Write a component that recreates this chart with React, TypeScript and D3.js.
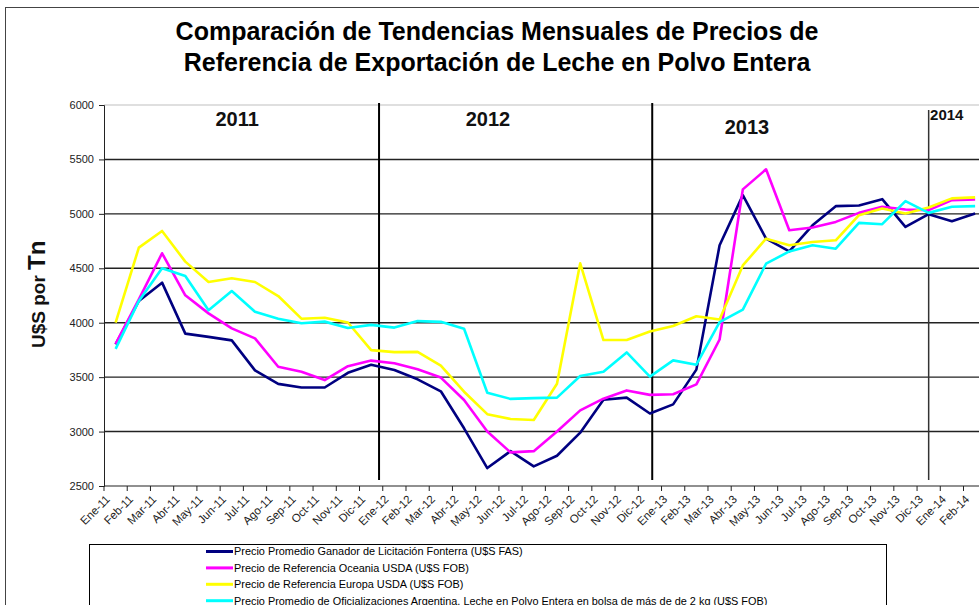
import React, { useEffect, useRef } from "react";
import * as d3 from "d3";

const categories = [
	"Ene-11", "Feb-11", "Mar-11", "Abr-11", "May-11", "Jun-11", "Jul-11", "Ago-11", "Sep-11", "Oct-11", "Nov-11", "Dic-11",
	"Ene-12", "Feb-12", "Mar-12", "Abr-12", "May-12", "Jun-12", "Jul-12", "Ago-12", "Sep-12", "Oct-12", "Nov-12", "Dic-12",
	"Ene-13", "Feb-13", "Mar-13", "Abr-13", "May-13", "Jun-13", "Jul-13", "Ago-13", "Sep-13", "Oct-13", "Nov-13", "Dic-13",
	"Ene-14", "Feb-14",
];

const fonterra = [
	3800, 4200, 4368, 3900, 3870, 3838, 3562, 3438, 3405, 3405, 3540, 3614,
	3565, 3480, 3370, 3030, 2665, 2820, 2680, 2778, 2990, 3292, 3312, 3166,
	3250, 3569, 4711, 5172, 4772, 4655, 4895, 5071, 5077, 5135, 4880, 4997,
	4932, 5003,
];
const oceania = [
	3805, 4215, 4638, 4252, 4086, 3948, 3856, 3595, 3549, 3473, 3601, 3652,
	3628, 3573, 3496, 3290, 3000, 2809, 2820, 3000, 3195, 3302, 3378, 3337,
	3343, 3434, 3846, 5225, 5409, 4849, 4874, 4926, 5009, 5065, 5040, 5034,
	5126, 5132,
];
const europa = [
	4000, 4690, 4843, 4561, 4374, 4408, 4374, 4245, 4037, 4046, 4002, 3748,
	3730, 3732, 3606, 3366, 3160, 3116, 3107, 3440, 4546, 3841, 3841, 3920,
	3970, 4060, 4030, 4526, 4772, 4711, 4742, 4757, 4988, 5049, 5003, 5058,
	5142, 5151,
];
const argentina = [
	3760, 4199, 4500, 4429, 4115, 4291, 4100, 4037, 3995, 4010, 3952, 3980,
	3955, 4015, 4008, 3945, 3357, 3300, 3307, 3312, 3510, 3550, 3727, 3505,
	3654, 3614, 4006, 4120, 4542, 4655, 4711, 4680, 4917, 4905, 5117, 5009,
	5065, 5071,
];

const seriesNames = [
	"Precio Promedio Ganador de Licitación Fonterra (U$S FAS)",
	"Precio de Referencia Oceania USDA (U$S FOB)",
	"Precio de Referencia Europa USDA (U$S FOB)",
	"Precio Promedio de Oficializaciones Argentina, Leche en Polvo Entera en bolsa de más de de 2 kg (U$S FOB)",
];
const seriesColors = ["#000080", "#ff00ff", "#ffff00", "#00ffff"];
const seriesValues = [fonterra, oceania, europa, argentina];

const yTicks = [2500, 3000, 3500, 4000, 4500, 5000, 5500, 6000];

// year labels and the hand-drawn separators, in category units
const yearLabels = ["2011", "2012", "2013", "2014"];
const yearLabelAt = [5.73, 16.53, 27.68, 35.56];
const yearBreakAt = [11.84, 23.6, 35.5];

const App = () => {
	const ref = useRef(null);

	useEffect(() => {
		const width = 979;
		const height = 605;
		const margin = { top: 105, left: 104, bottom: 486 };
		const step = 23.23;

		const svg = d3.select(ref.current);
		svg.selectAll("*").remove();

		const x = d3
			.scaleBand()
			.domain(categories)
			.range([margin.left, margin.left + step * categories.length])
			.padding(0);
		const xi = d3
			.scaleLinear()
			.domain([0, categories.length])
			.range([margin.left, margin.left + step * categories.length]);
		const y = d3.scaleLinear().domain([2500, 6000]).range([margin.bottom, margin.top]);

		const font = "Arial, 'Liberation Sans', sans-serif";

		svg.append("rect").attr("width", width).attr("height", height).attr("fill", "#fff");

		// chart border
		svg
			.append("rect")
			.attr("x", 5.5)
			.attr("y", 7.5)
			.attr("width", width + 20)
			.attr("height", height + 20)
			.attr("fill", "none")
			.attr("stroke", "#444")
			.attr("stroke-width", 1);

		// title
		const title = svg
			.append("text")
			.attr("text-anchor", "middle")
			.attr("font-family", font)
			.attr("font-weight", "bold")
			.attr("font-size", 25)
			.attr("fill", "#000");
		title.append("tspan").attr("x", 497).attr("y", 40).text("Comparación de Tendencias Mensuales de Precios de");
		title.append("tspan").attr("x", 497).attr("y", 71).text("Referencia de Exportación de Leche en Polvo Entera");

		// gridlines
		svg
			.append("g")
			.selectAll("line")
			.data(yTicks.filter((t) => t > 2500))
			.join("line")
			.attr("x1", margin.left)
			.attr("x2", width + 10)
			.attr("y1", (d) => y(d))
			.attr("y2", (d) => y(d))
			.attr("stroke", (d) => (d === 6000 ? "#d4d4d4" : "#222"))
			.attr("stroke-width", 1.4);

		// y axis
		const yAxis = svg
			.append("g")
			.attr("transform", `translate(${margin.left},0)`)
			.call(d3.axisLeft(y).tickValues(yTicks).tickSize(5).tickPadding(5).tickFormat(d3.format("d")));
		yAxis.select(".domain").attr("stroke", "#222");
		yAxis.selectAll("line").attr("stroke", "#222");
		yAxis.selectAll("text").attr("font-family", font).attr("font-size", 11).attr("fill", "#222");

		// x axis
		svg
			.append("line")
			.attr("x1", margin.left)
			.attr("x2", width + 10)
			.attr("y1", margin.bottom)
			.attr("y2", margin.bottom)
			.attr("stroke", "#222")
			.attr("stroke-width", 1.2);
		svg
			.append("g")
			.selectAll("line")
			.data(categories)
			.join("line")
			.attr("x1", (d) => x(d))
			.attr("x2", (d) => x(d))
			.attr("y1", margin.bottom)
			.attr("y2", margin.bottom + 5)
			.attr("stroke", "#222");
		svg
			.append("g")
			.selectAll("text")
			.data(categories)
			.join("text")
			.attr("transform", (d) => `translate(${x(d) + x.bandwidth() / 2 - 5},${margin.bottom + 14}) rotate(-45)`)
			.attr("text-anchor", "end")
			.attr("font-family", font)
			.attr("font-size", 11.5)
			.attr("fill", "#222")
			.text((d) => d);

		// year separators
		svg
			.append("g")
			.selectAll("line")
			.data(yearBreakAt)
			.join("line")
			.attr("x1", (d) => xi(d))
			.attr("x2", (d) => xi(d))
			.attr("y1", (d, i) => (i === 2 ? 110 : 103))
			.attr("y2", 480)
			.attr("stroke", (d, i) => (i === 2 ? "#333" : "#000"))
			.attr("stroke-width", (d, i) => (i === 2 ? 1.5 : 2));

		// year labels
		svg
			.append("g")
			.selectAll("text")
			.data(yearLabels)
			.join("text")
			.attr("x", (d, i) => xi(yearLabelAt[i]))
			.attr("y", (d, i) => [126, 126, 134, 120][i])
			.attr("text-anchor", (d, i) => (i === 3 ? "start" : "middle"))
			.attr("font-family", font)
			.attr("font-weight", "bold")
			.attr("font-size", (d, i) => (i === 3 ? 15 : 20))
			.attr("fill", "#111")
			.text((d) => d);

		// lines
		const line = d3
			.line()
			.x((d, i) => x(categories[i]) + x.bandwidth() / 2)
			.y((d) => y(d));
		seriesValues.forEach((values, i) => {
			svg
				.append("path")
				.datum(values)
				.attr("fill", "none")
				.attr("stroke", seriesColors[i])
				.attr("stroke-width", 2.6)
				.attr("stroke-linejoin", "round")
				.attr("d", line);
		});

		// y axis title
		const yTitle = svg
			.append("text")
			.attr("transform", "translate(45,348) rotate(-90)")
			.attr("font-family", font)
			.attr("font-weight", "bold")
			.attr("fill", "#111");
		yTitle.append("tspan").attr("font-size", 19).text("U$S por ");
		yTitle.append("tspan").attr("font-size", 24).text("Tn");

		// legend
		svg
			.append("rect")
			.attr("x", 89.5)
			.attr("y", 544.5)
			.attr("width", 797)
			.attr("height", 100)
			.attr("fill", "#fff")
			.attr("stroke", "#000");
		const legend = svg
			.append("g")
			.selectAll("g")
			.data(seriesNames)
			.join("g")
			.attr("transform", (d, i) => `translate(206,${551.5 + i * 16.4})`);
		legend
			.append("line")
			.attr("x1", 0)
			.attr("x2", 27)
			.attr("stroke", (d, i) => seriesColors[i])
			.attr("stroke-width", 3);
		legend
			.append("text")
			.attr("x", 28)
			.attr("y", 3.8)
			.attr("font-family", font)
			.attr("font-size", 10.9)
			.attr("fill", "#000")
			.text((d) => d);
	}, []);

	return (
		<svg
			ref={ref}
			width={979}
			height={605}
			style={{ position: "fixed", left: 0, top: 0, display: "block" }}
		/>
	);
};

export default App;
